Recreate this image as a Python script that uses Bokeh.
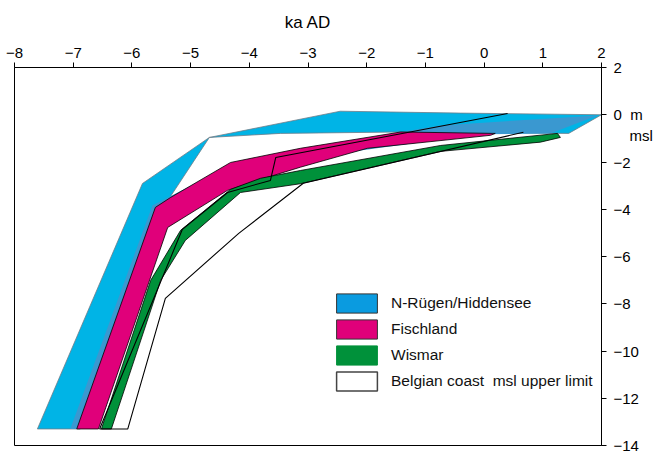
from bokeh.plotting import figure
from bokeh.models import Range1d, FixedTicker, Legend, LegendItem, LinearAxis, CustomJSTickFormatter
from bokeh.embed import file_html
from bokeh.resources import INLINE

NaN = float("nan")

# ---- data: x in ka AD, y in m msl ----
# N-Rügen/Hiddensee (light cyan band)
hid_x = [-7.61, -5.82, -4.68, -2.45, -0.40, 2.00, 1.44, -1.42, -3.47, -4.68, -5.34, -6.88]
hid_y = [-13.3, -2.91, -0.96, 0.15, 0.07, 0.00, -0.79, -0.73, -0.79, -0.96, -3.45, -13.3]
# N-Rügen/Hiddensee (darker blue band, partly under Fischland)
rug_x = [-7.05, -5.65, -4.32, -1.42, -0.74, 1.93, 1.13, -0.06, -2.11, -3.98, -5.34, -6.62]
rug_y = [-13.3, -3.84, -2.14, -0.73, -0.45, -0.03, -0.79, -0.83, -1.51, -2.57, -4.27, -13.3]
# Fischland
fis_x = [-6.94, -5.60, -5.34, -4.32, -3.13, -1.42, 0.19, 0.11, -1.99, -3.13, -3.81, -4.37, -5.39, -6.57]
fis_y = [-13.3, -3.92, -3.50, -2.02, -1.42, -0.73, -0.79, -0.87, -1.42, -2.22, -2.74, -3.20, -4.77, -13.3]
# Wismar
wis_x = [-6.52, -5.68, -5.17, -4.32, -3.81, -3.13, -0.74, 1.25, 1.30, 0.96, -0.74, -3.13, -4.15, -5.09, -5.51, -6.35]
wis_y = [-13.3, -7.01, -4.89, -3.16, -2.69, -2.36, -1.30, -0.79, -0.96, -1.16, -1.55, -2.92, -3.29, -5.32, -7.01, -13.3]
# Belgian coast msl upper limit (outline)
bel_x = [0.67, -3.08, -4.18, -5.43, -6.07, -6.55, -5.14, -4.37, -3.64, -3.55, 0.40]
bel_y = [-0.74, -2.90, -5.02, -7.77, -13.3, -13.3, -4.85, -3.29, -2.78, -1.81, 0.05]

x_ticks = list(range(-8, 3))
y_ticks = list(range(-14, 3, 2))
legend_labels = ["N-Rügen/Hiddensee", "Fischland", "Wismar", "Belgian coast\u00a0 msl upper limit"]

FONT = "Liberation Sans"

p = figure(width=657, height=454, output_backend="svg", toolbar_location=None,
           x_range=Range1d(-8, 2), y_range=Range1d(-14, 2),
           x_axis_location="above", y_axis_location="right",
           min_border_left=14, min_border_right=56, min_border_top=67, min_border_bottom=9)
p.grid.visible = False
p.outline_line_color = "black"
p.outline_line_width = 1
p.background_fill_color = "white"
p.border_fill_color = "white"

for ax in (p.xaxis[0], p.yaxis[0]):
    ax.axis_line_color = "black"
    ax.major_tick_line_color = "black"
    ax.minor_tick_line_color = None
    ax.major_tick_in = 0
    ax.major_tick_out = 5
    ax.major_label_text_color = "black"
    ax.major_label_text_font = FONT
    ax.major_label_text_font_size = "15px"

p.xaxis.ticker = FixedTicker(ticks=x_ticks)
p.yaxis.ticker = FixedTicker(ticks=y_ticks)
p.xaxis.major_label_standoff = 5
p.yaxis.major_label_standoff = 7
p.yaxis.major_label_overrides = {0: "0\u00a0\u00a0m"}
p.xaxis.axis_label = "ka AD"
p.xaxis.axis_label_text_font = FONT
p.xaxis.axis_label_text_font_style = "normal"
p.xaxis.axis_label_text_font_size = "17px"
p.xaxis.axis_label_text_color = "black"
p.xaxis.axis_label_standoff = 13

# unit text "msl" beneath "m" as a second, line-less right axis
unit_axis = LinearAxis(ticker=FixedTicker(ticks=[-0.88]),
                       formatter=CustomJSTickFormatter(code="return 'msl'"),
                       axis_line_color=None, major_tick_line_color=None, minor_tick_line_color=None,
                       major_tick_out=0, major_tick_in=0, major_label_standoff=-16,
                       major_label_text_font=FONT, major_label_text_font_size="15px",
                       major_label_text_color="black")
p.add_layout(unit_axis, "right")

# bands
p.patch(hid_x, hid_y, fill_color="#00b4e6", line_color="#6e7c88", line_width=0.8)
p.patch(rug_x, rug_y, fill_color="#3a98d0", line_color=None)
p.patch(fis_x, fis_y, fill_color="#e0007a", line_color="black", line_width=0.8)
p.patch(wis_x, wis_y, fill_color="#00913a", line_color="black", line_width=0.8)
p.line(bel_x, bel_y, line_color="black", line_width=1.1)

# legend-only renderers (no visible data)
l1 = p.patch([NaN], [NaN], fill_color="#0a9be0", line_color="#333333", line_width=1)
l2 = p.patch([NaN], [NaN], fill_color="#e0007a", line_color="#333333", line_width=1)
l3 = p.patch([NaN], [NaN], fill_color="#00913a", line_color="#00913a", line_width=1)
l4 = p.patch([NaN], [NaN], fill_color="white", line_color="#444444", line_width=1.5)

legend = Legend(items=[LegendItem(label=lab, renderers=[r]) for lab, r in zip(legend_labels, [l1, l2, l3, l4])],
                location=(317, 52), orientation="vertical",
                glyph_width=51, glyph_height=24, label_height=24, spacing=2,
                padding=0, margin=0, label_standoff=9,
                border_line_color=None, background_fill_alpha=0,
                label_text_font=FONT, label_text_font_size="15.5px", label_text_color="#111111")
p.add_layout(legend)

open("out.html", "w").write(file_html(p, INLINE))
